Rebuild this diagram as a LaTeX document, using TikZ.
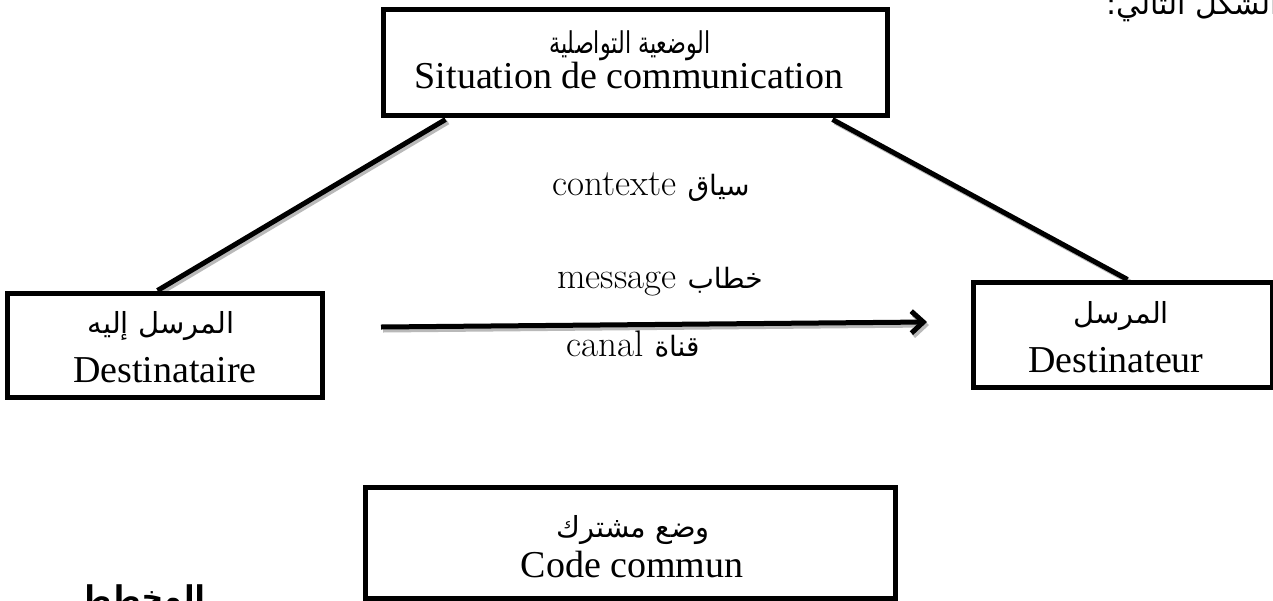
\documentclass[tikz,border=0pt]{standalone}
\usepackage{fontspec}
\usetikzlibrary{arrows.meta,calc}
\TeXXeTstate=1
\newfontfamily\arabicfont[Script=Arabic]{DejaVu Sans}
\newfontfamily\arabicnarrow[Script=Arabic,FakeStretch=0.74]{DejaVu Sans}
\newfontfamily\arabicbold[Script=Arabic]{DejaVu Sans Bold}
\newfontfamily\tnr{Liberation Serif}
\begin{document}
\begin{tikzpicture}[x=1pt,y=-1pt,
  box/.style={draw, fill=white, line width=5pt, rectangle, inner sep=0pt},
  conn/.style={line width=5pt, black},
  shade/.style={line width=5pt, gray!55},
  ar/.style={font=\arabicfont\fontsize{29}{34}\selectfont, inner sep=1pt},
  lt/.style={font=\tnr\fontsize{38}{45}\selectfont, inner sep=1pt},
  mid/.style={font=\fontsize{37}{44}\selectfont, inner sep=0pt},
  midar/.style={font=\arabicfont\fontsize{28}{33}\selectfont, inner sep=0pt},
  tipstyle/.style={-{Straight Barb[length=12pt,width=22pt]}},
]
\useasboundingbox (0,0) rectangle (1273,600);

% free ends of the arrow
\coordinate (a1) at (381,327);
\coordinate (a2) at (927,322);

% boxes
\node[box, minimum width=504pt, minimum height=106pt] (top) at (635,62) {};
\node[box, minimum width=315pt, minimum height=104pt] (left) at (164.5,345) {};
\node[box, minimum width=299pt, minimum height=105pt] (right) at (1122.5,334.5) {};
\node[box, minimum width=530pt, minimum height=111pt] (bottom) at (630,542.5) {};

% connectors (shadow first)
\draw[shade] ([shift={(67.5,4.5)}]top.south west) -- ([shift={(155.5,2.5)}]left.north west);
\draw[shade] ([shift={(-54.5,4.5)}]top.south east) -- ([shift={(159.5,2.5)}]right.north west);
\draw[conn] ([shift={(65,2)}]top.south west) -- ([shift={(153,0)}]left.north west);
\draw[conn] ([shift={(-57,2)}]top.south east) -- ([shift={(157,0)}]right.north west);

% box borders again, over the connector ends
\node[box, minimum width=504pt, minimum height=106pt] (topb) at (top) {};
\node[box, minimum width=315pt, minimum height=104pt] (leftb) at (left) {};
\node[box, minimum width=299pt, minimum height=105pt] (rightb) at (right) {};

% arrow
\draw[shade, tipstyle] ($(a1)+(2,3)$) -- ($(a2)+(2,3)$);
\draw[conn, tipstyle] (a1) -- (a2);

% box texts
\node[ar, font=\arabicnarrow\fontsize{30}{34}\selectfont, anchor=base] (topar) at (630,53) {\beginR الوضعية التواصلية\endR};
\node[lt, anchor=base] (toplt) at (629,88) {Situation de communication};
\node[ar, anchor=base] (leftar) at (161,333) {\beginR المرسل إليه\endR};
\node[lt, anchor=base] (leftlt) at (165,382) {Destinataire};
\node[ar, anchor=base] (rightar) at (1121,323) {\beginR المرسل\endR};
\node[lt, anchor=base] (rightlt) at (1116,372) {Destinateur};
\node[ar, anchor=base] (botar) at (633,537) {\beginR وضع مشترك\endR};
\node[lt, anchor=base] (botlt) at (632,577) {Code commun};

% middle labels
\node[mid, anchor=base west] (ctx) at (552,195) {contexte {\arabicfont\fontsize{28}{33}\selectfont\beginR سياق\endR}};
\node[mid, anchor=base west] (msg) at (557,288) {message {\arabicfont\fontsize{28}{33}\selectfont\beginR خطاب\endR}};
\node[mid, anchor=base west] (can) at (566,356) {canal {\arabicfont\fontsize{28}{33}\selectfont\beginR قناة\endR}};

% texts cut off at the page edges
\node[font=\arabicfont\fontsize{30}{36}\selectfont, anchor=base west, inner sep=0pt] (fig) at (1106,14) {\beginR الشكل التالي:\endR};
\node[font=\arabicbold\fontsize{30}{36}\selectfont, anchor=base east, inner sep=0pt] (diag) at (205,607) {\beginR المخطط\endR};
\end{tikzpicture}
\end{document}
